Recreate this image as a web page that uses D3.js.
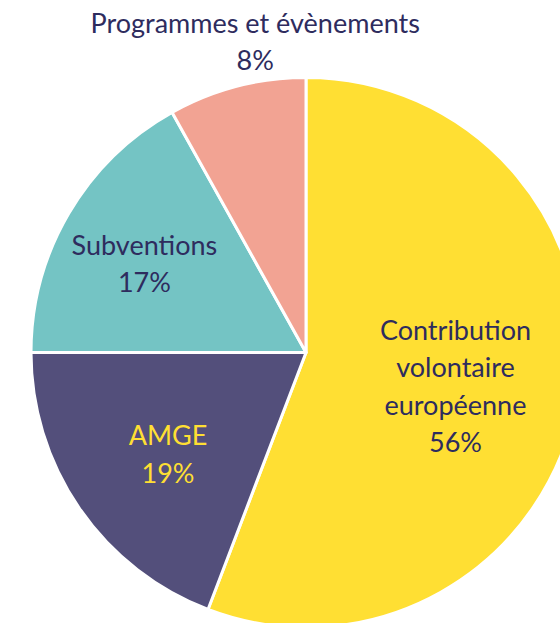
<!DOCTYPE html>
<html>
<head>
<meta charset="utf-8">
<script src="https://cdn.jsdelivr.net/npm/d3@7"></script>
<style>
  html, body { margin: 0; padding: 0; background: #ffffff; overflow: hidden; }
  text { font-family: Lato, "Noto Sans", sans-serif; }
</style>
</head>
<body>
<div id="chart"></div>
<script>
// Data (shares in %, labels show them rounded)
var categories = ["Contribution volontaire européenne", "AMGE", "Subventions", "Programmes et évènements"];
var labelLines = [["Contribution", "volontaire", "européenne"], ["AMGE"], ["Subventions"], ["Programmes et évènements"]];
var values = [55.8, 19.2, 16.9, 8.1];

var colors = ["#ffdf33", "#534f7b", "#74c4c4", "#f2a393"];
var textColors = ["#2e2c5e", "#ffdf33", "#2e2c5e", "#2e2c5e"];

var w = 560;
var h = 623;
var cx = 306, cy = 352.5;
var radius = 275;

// label placement: radius of the label ring and a small nudge per slice
var labelRadius = [152, 170, 170, 305];
var labelNudge = [[0, 6], [2, 5], [-15, -3], [26, -16]];
var lineHeight = 37.5;

var svg = d3.select("#chart")
    .append("svg")
    .attr("width", w)
    .attr("height", h);

var g = svg.append("g")
    .attr("transform", "translate(" + cx + "," + cy + ")");

var pie = d3.pie()
    .sort(null)
    .value(function(d) { return d; });

var arcs = pie(values);

var arc = d3.arc()
    .innerRadius(0)
    .outerRadius(radius);

g.selectAll("path")
    .data(arcs)
    .enter()
    .append("path")
    .attr("d", arc)
    .attr("fill", function(d, i) { return colors[i]; })
    .attr("stroke", "#ffffff")
    .attr("stroke-width", 3)
    .attr("stroke-linejoin", "round");

// Labels
var labels = g.selectAll("text.label")
    .data(arcs)
    .enter()
    .append("text")
    .attr("class", "label")
    .attr("text-anchor", "middle")
    .attr("font-size", 27)
    .attr("fill", function(d, i) { return textColors[i]; })
    .attr("transform", function(d, i) {
        var la = d3.arc().innerRadius(labelRadius[i]).outerRadius(labelRadius[i]);
        var c = la.centroid(d);
        return "translate(" + (c[0] + labelNudge[i][0]) + "," + (c[1] + labelNudge[i][1]) + ")";
    });

labels.each(function(d, i) {
    var lines = labelLines[i].concat([Math.round(d.value) + "%"]);
    var t = d3.select(this);
    var y0 = -(lines.length - 1) * lineHeight / 2 + 10;
    lines.forEach(function(line, j) {
        t.append("tspan")
            .attr("x", 0)
            .attr("y", y0 + j * lineHeight)
            .text(line);
    });
});
</script>
</body>
</html>
